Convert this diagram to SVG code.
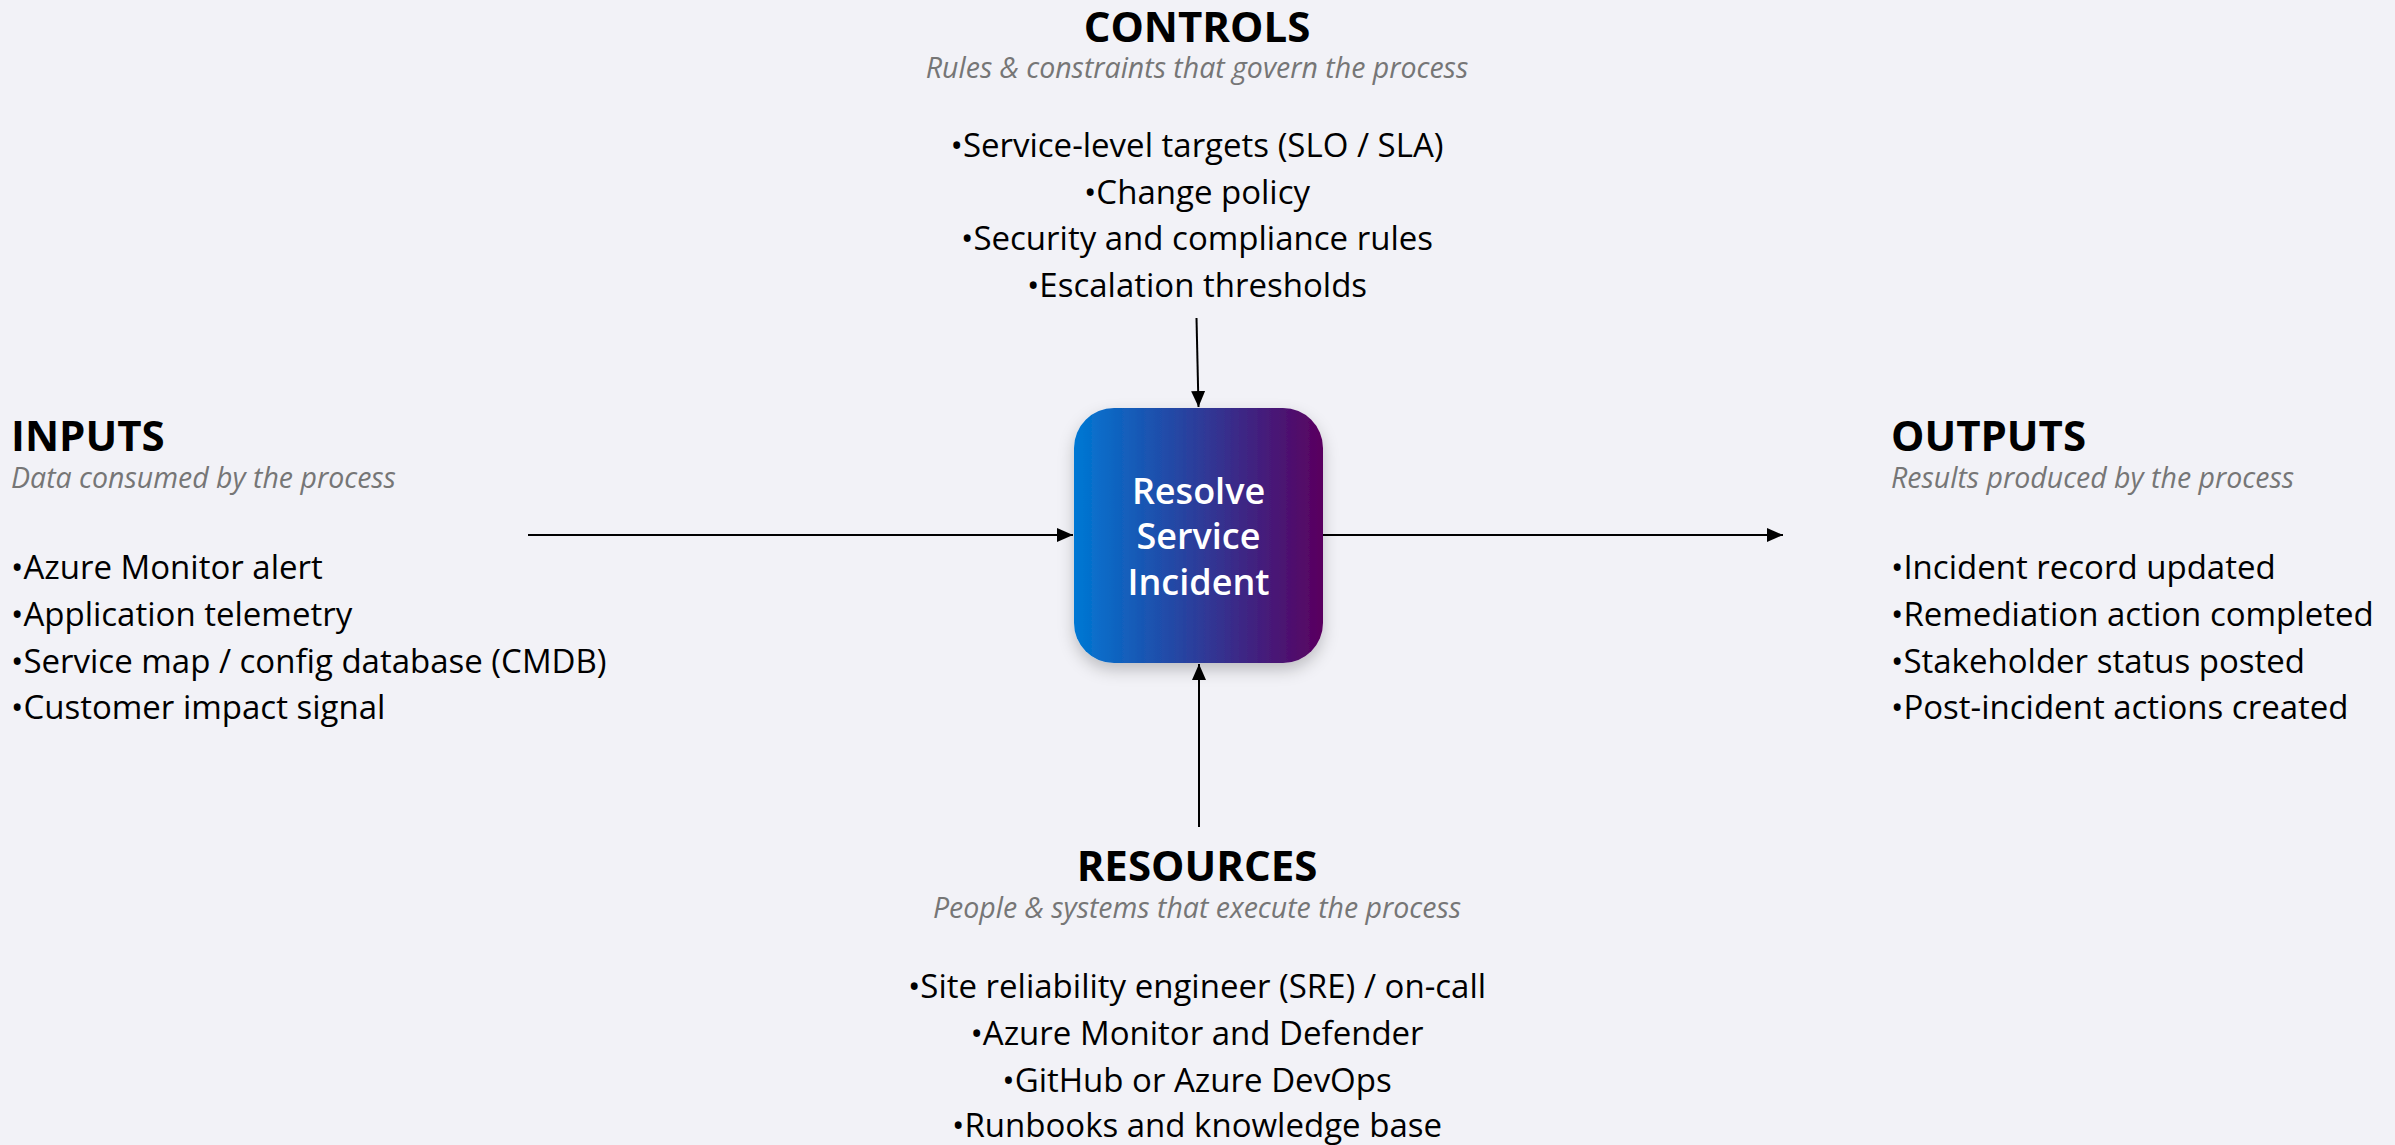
<svg xmlns="http://www.w3.org/2000/svg" width="2395" height="1145" viewBox="0 0 2395 1145">
  <defs>
    <linearGradient id="procFill" x1="0" y1="0" x2="1" y2="0">
      <stop offset="0" stop-color="#0078d4"/>
      <stop offset="1" stop-color="#5a005f"/>
    </linearGradient>
    <filter id="boxShadow" x="-20%" y="-20%" width="140%" height="150%">
      <feDropShadow dx="0" dy="7" stdDeviation="8" flood-color="#000" flood-opacity="0.22"/>
    </filter>
    <marker id="arrow" viewBox="0 0 16 14" refX="16" refY="7" markerWidth="16" markerHeight="14" markerUnits="userSpaceOnUse" orient="auto">
      <path d="M0,0 L16,7 L0,14 Z" fill="#000"/>
    </marker>
    <style>
      text { font-family: "Open Sans", "Noto Sans", "Liberation Sans", sans-serif; }
      .title { font-size: 42px; font-weight: 700; fill: #000; }
      .sub { font-size: 28.5px; font-style: italic; fill: #767676; }
      .item { font-size: 33px; fill: #000; }
      .mid { text-anchor: middle; }
      .proc { font-size: 36px; font-weight: 600; fill: #fff; text-anchor: middle; }
      .conn { stroke: #000; stroke-width: 2; fill: none; marker-end: url(#arrow); }
    </style>
  </defs>

  <rect width="2395" height="1145" fill="#f2f2f7"/>

  <!-- connectors into and out of the process box -->
  <g id="connectors">
    <line class="conn" x1="1196.5" y1="318" x2="1198.5" y2="407"/>
    <line class="conn" x1="528" y1="535" x2="1073" y2="535"/>
    <line class="conn" x1="1323" y1="535" x2="1783" y2="535"/>
    <line class="conn" x1="1199" y1="827" x2="1199" y2="664"/>
  </g>

  <!-- central process -->
  <g id="process">
    <rect x="1074" y="408" width="249" height="255" rx="40" ry="40" fill="url(#procFill)" filter="url(#boxShadow)"/>
    <text class="proc" x="1198.5" y="504">Resolve</text>
    <text class="proc" x="1198.5" y="549">Service</text>
    <text class="proc" x="1198.5" y="595">Incident</text>
  </g>

  <g id="controls">
    <text class="title mid" x="1197" y="42">CONTROLS</text>
    <text class="sub mid" x="1197" y="78">Rules &amp; constraints that govern the process</text>
    <text class="item mid" x="1197" y="157">•Service-level targets (SLO / SLA)</text>
    <text class="item mid" x="1197" y="204">•Change policy</text>
    <text class="item mid" x="1197" y="250">•Security and compliance rules</text>
    <text class="item mid" x="1197" y="297">•Escalation thresholds</text>
  </g>

  <g id="inputs">
    <text class="title" x="11" y="451">INPUTS</text>
    <text class="sub" x="11" y="488">Data consumed by the process</text>
    <text class="item" x="11" y="579">•Azure Monitor alert</text>
    <text class="item" x="11" y="626">•Application telemetry</text>
    <text class="item" x="11" y="673">•Service map / config database (CMDB)</text>
    <text class="item" x="11" y="719">•Customer impact signal</text>
  </g>

  <g id="outputs">
    <text class="title" x="1891" y="451">OUTPUTS</text>
    <text class="sub" x="1891" y="488">Results produced by the process</text>
    <text class="item" x="1891" y="579">•Incident record updated</text>
    <text class="item" x="1891" y="626">•Remediation action completed</text>
    <text class="item" x="1891" y="673">•Stakeholder status posted</text>
    <text class="item" x="1891" y="719">•Post-incident actions created</text>
  </g>

  <g id="resources">
    <text class="title mid" x="1197" y="881">RESOURCES</text>
    <text class="sub mid" x="1197" y="918">People &amp; systems that execute the process</text>
    <text class="item mid" x="1197" y="998">•Site reliability engineer (SRE) / on-call</text>
    <text class="item mid" x="1197" y="1045">•Azure Monitor and Defender</text>
    <text class="item mid" x="1197" y="1092">•GitHub or Azure DevOps</text>
    <text class="item mid" x="1197" y="1137">•Runbooks and knowledge base</text>
  </g>
</svg>
